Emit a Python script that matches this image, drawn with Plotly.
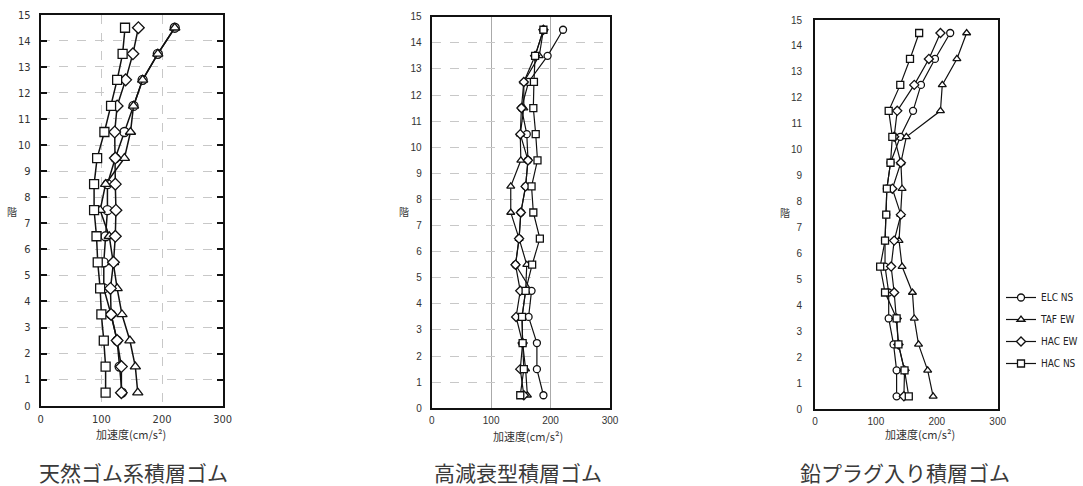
import plotly.graph_objects as go

W, H = 1083, 486

floors = [0.5, 1.5, 2.5, 3.5, 4.5, 5.5, 6.5, 7.5, 8.5, 9.5, 10.5, 11.5, 12.5, 13.5, 14.5]
series_names = ["ELC NS", "TAF EW", "HAC EW", "HAC NS"]
symbols = ["circle", "triangle-up", "diamond", "square"]

captions = ["天然ゴム系積層ゴム", "高減衰型積層ゴム", "鉛プラグ入り積層ゴム"]
x_title = "加速度(cm/s²)"
y_title = "階"
x_ticks = [0, 100, 200, 300]
y_ticks = list(range(0, 16))

# 天然ゴム系積層ゴム
p1_elc = [134, 130, 126, 116, 104, 104, 107, 110, 110, 123, 138, 153, 168, 193, 221]
p1_taf = [160, 156, 147, 134, 126, 120, 113, 98, 107, 138, 148, 153, 168, 193, 221]
p1_hacew = [133, 133, 126, 116, 115, 120, 123, 124, 123, 123, 122, 126, 140, 152, 161]
p1_hacns = [107, 107, 104, 100, 98, 94, 92, 88, 88, 93, 105, 116, 126, 135, 139]

# 高減衰型積層ゴム
p2_elc = [188, 177, 177, 163, 168, 141, 147, 150, 158, 162, 160, 151, 163, 195, 221]
p2_taf = [161, 158, 153, 152, 158, 160, 147, 133, 133, 150, 149, 155, 155, 181, 188]
p2_hacew = [155, 149, 153, 142, 149, 141, 147, 150, 158, 162, 149, 151, 155, 174, 188]
p2_hacns = [149, 155, 153, 152, 158, 169, 182, 171, 168, 178, 175, 171, 172, 174, 188]

# 鉛プラグ入り積層ゴム
p3_elc = [134, 134, 129, 121, 121, 115, 115, 117, 118, 124, 140, 161, 174, 197, 222]
p3_taf = [194, 185, 170, 163, 160, 143, 138, 141, 143, 141, 150, 206, 209, 233, 249]
p3_hacew = [146, 147, 137, 134, 130, 125, 130, 141, 127, 141, 130, 135, 163, 187, 206]
p3_hacns = [154, 147, 137, 134, 115, 107, 115, 117, 118, 124, 127, 121, 140, 156, 171]

panel_data = [
    [p1_elc, p1_taf, p1_hacew, p1_hacns],
    [p2_elc, p2_taf, p2_hacew, p2_hacns],
    [p3_elc, p3_taf, p3_hacew, p3_hacns],
]

# plot-area pixel boxes (left, right, top, bottom)
boxes = [
    (40.7, 222.7, 14.7, 405.7),
    (431.7, 610.0, 16.7, 408.3),
    (815.0, 997.7, 20.0, 409.3),
]
tick_fonts = [
    dict(family="Liberation Sans Narrow, DejaVu Sans Condensed, Liberation Sans", size=11, color="#333"),
    dict(family="Liberation Sans, Arial", size=10, color="#333"),
    dict(family="Liberation Sans, Arial", size=10, color="#333"),
]
marker_sizes = [9, 7, 7]
line_widths = [1.5, 1.2, 1.2]

fig = go.Figure()

for p, data in enumerate(panel_data):
    xa = "x" if p == 0 else f"x{p+1}"
    ya = "y" if p == 0 else f"y{p+1}"
    for s, vals in enumerate(data):
        fig.add_trace(go.Scatter(
            x=vals, y=floors, mode="lines+markers",
            name=series_names[s], legendgroup=series_names[s],
            showlegend=(p == 2),
            xaxis=xa, yaxis=ya,
            line=dict(color="#111", width=line_widths[p]),
            marker=dict(symbol=symbols[s], size=marker_sizes[p], color="white",
                        line=dict(color="#111", width=1.3)),
        ))

layout = dict(
    width=W, height=H,
    paper_bgcolor="white", plot_bgcolor="white",
    margin=dict(l=0, r=0, t=0, b=0, autoexpand=False),
    showlegend=True,
    legend=dict(x=1001 / W, y=1 - 283 / H, xanchor="left", yanchor="top",
                font=dict(family="Liberation Sans Narrow, DejaVu Sans Condensed, Liberation Sans",
                          size=10, color="#222"),
                tracegroupgap=3, bgcolor="rgba(0,0,0,0)"),
    annotations=[],
)

for p, (l, r, t, b) in enumerate(boxes):
    xk = "xaxis" if p == 0 else f"xaxis{p+1}"
    yk = "yaxis" if p == 0 else f"yaxis{p+1}"
    yname = "y" if p == 0 else f"y{p+1}"
    xname = "x" if p == 0 else f"x{p+1}"
    xaxis = dict(
        domain=[l / W, r / W], anchor=yname, range=[0, 300], automargin=False,
        tickmode="array", tickvals=x_ticks, ticktext=[str(v) for v in x_ticks],
        showline=True, linecolor="#111", linewidth=2, mirror=True,
        zeroline=False, tickfont=tick_fonts[p], ticklabelstandoff=2,
        showgrid=(p != 2), gridcolor="#aaa" if p == 1 else "#c8c8c8",
        griddash="solid" if p == 1 else "dash", gridwidth=1,
        fixedrange=True,
    )
    yaxis = dict(
        domain=[1 - b / H, 1 - t / H], anchor=xname, range=[0, 15], automargin=False,
        tickmode="array", tickvals=y_ticks, ticktext=[str(v) for v in y_ticks],
        showline=True, linecolor="#111", linewidth=2, mirror=True,
        zeroline=False, tickfont=tick_fonts[p], ticklabelstandoff=6 if p < 2 else 9,
        showgrid=(p != 2), gridcolor="#c8c8c8", griddash="dash", gridwidth=1,
        fixedrange=True,
    )
    if p == 0:
        yaxis.update(ticks="inside", ticklen=6, tickwidth=2, tickcolor="#111", mirror="ticks")
    layout[xk] = xaxis
    layout[yk] = yaxis

    # x-axis title
    x_title_cx = [131, 528, 920][p]
    layout["annotations"].append(dict(
        text=x_title, x=x_title_cx / W, y=1 - [434, 436, 434][p] / H,
        xref="paper", yref="paper", showarrow=False, xanchor="center", yanchor="middle",
        font=dict(family="Noto Sans CJK JP", size=11, color="#333")))
    # y-axis title
    layout["annotations"].append(dict(
        text=y_title, x=[12, 404, 785][p] / W, y=1 - [211, 211, 213][p] / H,
        xref="paper", yref="paper", showarrow=False, xanchor="center", yanchor="middle",
        font=dict(family="Noto Sans CJK JP", size=10, color="#333")))
    # caption
    layout["annotations"].append(dict(
        text=captions[p], x=[133, 518, 905][p] / W, y=1 - 472 / H,
        xref="paper", yref="paper", showarrow=False, xanchor="center", yanchor="middle",
        font=dict(family="Noto Sans CJK JP", size=21, color="#3a3a3a")))

fig.update_layout(**layout)
fig.write_html("out.html", config={"displayModeBar": False},
               post_script="document.body.style.margin='0';document.body.style.overflow='hidden';")
